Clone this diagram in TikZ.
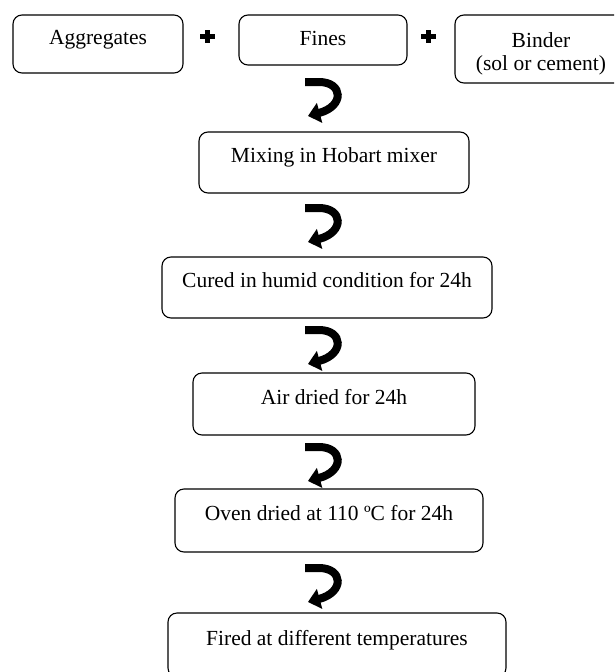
\documentclass[tikz,border=0pt]{standalone}
\usepackage{fontspec}
\setmainfont{Liberation Serif}
\usepackage{tikz}
\usetikzlibrary{arrows.meta}

\begin{document}
\begin{tikzpicture}[x=1pt, y=-1pt,
  box/.style={draw, rounded corners=9pt, line width=1.1pt, inner sep=0pt,
              font=\fontsize{21.5}{23}\selectfont, text height=10pt, text depth=10pt},
  turn/.pic={\draw[line width=8pt, -{Triangle[width=20pt,length=12pt]}]
               (0,4) -- (14,4) .. controls (38,4) and (40,28) .. (3,38);},
  plussign/.pic={\fill (-7.5,-2.5) rectangle (7.5,2.5);
                 \fill (-2.5,-6.5) rectangle (2.5,6.5);},
]
  \clip (0,0) rectangle (614,672);

  % ingredients
  \node[box, minimum width=170pt, minimum height=58pt] (agg) at (98,44) {Aggregates};
  \node[box, minimum width=168pt, minimum height=50pt,
        text height=15pt, text depth=5pt] (fines) at (323,40) {Fines};
  \node[box, minimum width=172pt, minimum height=68pt, align=center,
        text height=, text depth=] (binder) at (541,49) {\rule{0pt}{24pt}Binder\\(sol or cement)};
  \coordinate (p1) at (207,36);
  \coordinate (p2) at (428,36);
  \pic at (p1) {plussign};
  \pic at (p2) {plussign};

  % process steps
  \node[box, minimum width=270pt, minimum height=61pt] (mix) at (334,162.5) {Mixing in Hobart mixer};
  \node[box, minimum width=330pt, minimum height=61pt] (cure) at (327,287.5) {Cured in humid condition for 24h};
  \node[box, minimum width=282pt, minimum height=62pt] (air) at (334,404) {Air dried for 24h};
  \node[box, minimum width=308pt, minimum height=63pt] (oven) at (329,520.5) {Oven dried at 110 ºC for 24h};
  \node[box, minimum width=338pt, minimum height=64pt] (fired) at (337,645) {Fired at different temperatures};

  % turning arrows
  \coordinate (t1) at (305,78);
  \coordinate (t2) at (305,204);
  \coordinate (t3) at (305,326);
  \coordinate (t4) at (305,443);
  \coordinate (t5) at (305,564);
  \foreach \t in {t1,t2,t3,t4,t5}
    \pic at (\t) {turn};
\end{tikzpicture}
\end{document}
